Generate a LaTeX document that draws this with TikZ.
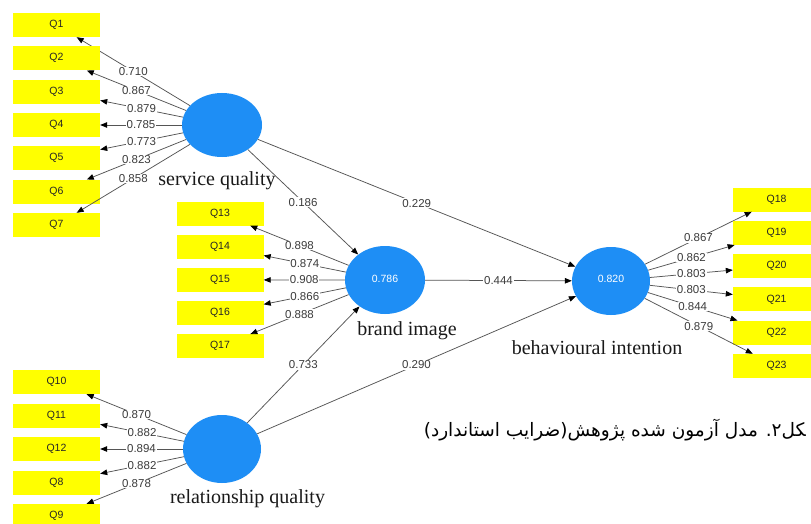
\documentclass[tikz,border=0pt]{standalone}
\usepackage{fontspec}
\setmainfont{Liberation Serif}
\newfontfamily\uifont{Liberation Sans}
\newfontfamily\farsifont[Script=Arabic]{DejaVu Sans}
\TeXXeTstate=1
\usetikzlibrary{shapes.geometric,arrows.meta}

\definecolor{itemyellow}{RGB}{255,255,0}
\definecolor{latentblue}{RGB}{30,142,245}
\definecolor{linegray}{RGB}{85,85,85}
\definecolor{coefgray}{RGB}{60,60,60}

\begin{document}
\begin{tikzpicture}[x=1pt,y=-1pt,
  item/.style={rectangle, fill=itemyellow, minimum width=87pt, minimum height=24pt,
    inner sep=0pt, font=\uifont\fontsize{10.5}{12}\selectfont, text=black!85},
  latent/.style={ellipse, fill=latentblue, inner sep=0pt,
    font=\uifont\fontsize{10.5}{12}\selectfont, text=white},
  latentname/.style={anchor=base, inner sep=0pt, font=\fontsize{20}{22}\selectfont, text=black!90},
  link/.style={draw=linegray, line width=0.75pt,
    -{Triangle[length=7pt,width=5.5pt,color=black]}},
  coef/.style={midway, fill=white, inner sep=0.8pt,
    font=\uifont\fontsize{11.5}{13}\selectfont, text=coefgray}]

\useasboundingbox (0,0) rectangle (811,524);
\fill[white] (0,0) rectangle (811,524);
\clip (0,0) rectangle (811,524);

% latent variables
\node[latent, minimum width=80pt, minimum height=64pt] (sq) at (222,125) {};
\node[latent, minimum width=80pt, minimum height=68pt] (bi) at (385,280) {\raisebox{3pt}{0.786}};
\node[latent, minimum width=78pt, minimum height=68pt] (bin) at (611,281) {\raisebox{4pt}{0.820}};
\node[latent, minimum width=78pt, minimum height=68pt] (rq) at (222,449) {};

\node[latentname] (sqname) at (217,185) {service quality};
\node[latentname] (biname) at (407,335) {brand image};
\node[latentname] (binname) at (597,354) {behavioural intention};
\node[latentname] (rqname) at (247.5,503) {relationship quality};

% structural paths
\draw[link] (sq) -- (bi) node[coef] {0.186};
\draw[link] (sq) -- (bin) node[coef] {0.229};
\draw[link] (bi) -- (bin) node[coef] {0.444};
\draw[link] (rq) -- (bi) node[coef] {0.733};
\draw[link] (rq) -- (bin) node[coef] {0.290};

% service quality indicators
\foreach \q/\y/\v in {Q1/25/0.710, Q2/58.3/0.867, Q3/91.7/0.879, Q4/125/0.785,
                      Q5/158.3/0.773, Q6/191.7/0.823, Q7/225/0.858} {
  \node[item] (\q) at (56.5,\y) {\q};
  \draw[link] (sq) -- (\q) node[coef] {\v};
}

% brand image indicators
\foreach \q/\y/\v in {Q13/213.5/0.898, Q14/246.7/0.874, Q15/279.9/0.908,
                      Q16/313.1/0.866, Q17/346.3/0.888} {
  \node[item] (\q) at (220,\y) {\q};
  \draw[link] (bi) -- (\q) node[coef] {\v};
}

% behavioural intention indicators
\foreach \q/\y/\v in {Q18/199.5/0.867, Q19/232.8/0.862, Q20/266.1/0.803,
                      Q21/299.4/0.803, Q22/332.7/0.844, Q23/366/0.879} {
  \node[item] (\q) at (776.5,\y) {\q};
  \draw[link] (bin) -- (\q) node[coef] {\v};
}

% relationship quality indicators
\foreach \q/\y/\v in {Q10/382/0.870, Q11/415.5/0.882, Q12/449/0.894,
                      Q8/482.5/0.882, Q9/516/0.878} {
  \node[item] (\q) at (56.5,\y) {\q};
  \draw[link] (rq) -- (\q) node[coef] {\v};
}

% caption
\node[anchor=east, inner sep=0pt, text=black] (caption) at (806,430)
  {\farsifont\fontsize{18.5}{22}\selectfont\beginR ^^^^200dکل۲. مدل آزمون شده پژوهش(ضرایب استاندارد)\endR};

\end{tikzpicture}
\end{document}
